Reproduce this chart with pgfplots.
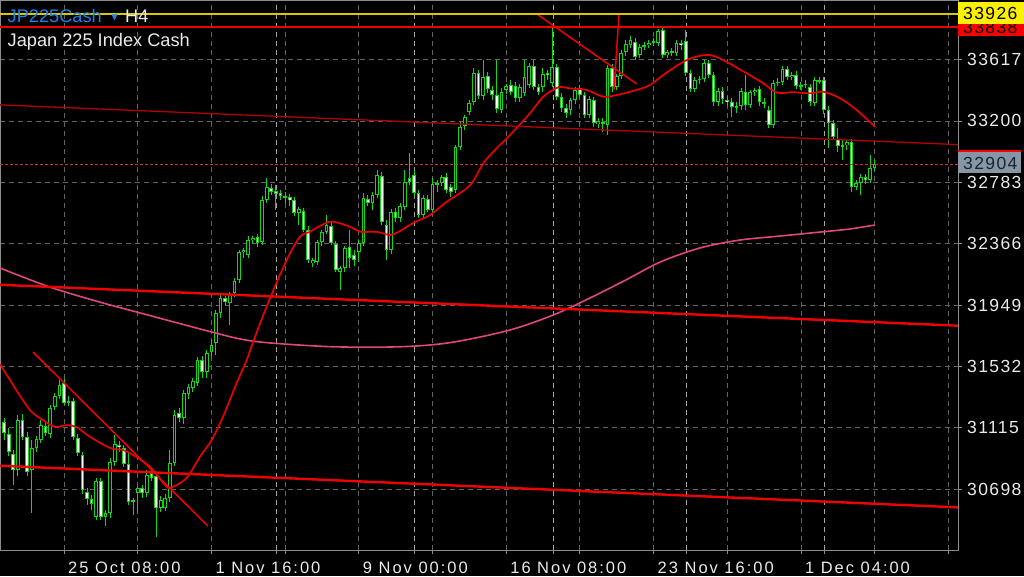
\documentclass[border=0pt]{standalone}
\usepackage{fontspec}
\setmainfont{Liberation Sans}
\newfontfamily\hdrfont{Liberation Sans}
\newfontfamily\axfont[LetterSpace=8]{Liberation Sans}
\newfontfamily\xfont[LetterSpace=12]{Liberation Sans}
\usepackage{pgfplots}
\usepackage{pgfplotstable}
\pgfplotsset{compat=1.18}

\definecolor{candle}{RGB}{20,215,20}
\definecolor{bearfill}{RGB}{245,255,245}
\definecolor{gridc}{RGB}{100,100,100}
\definecolor{sepc}{RGB}{165,165,165}
\definecolor{framec}{RGB}{140,140,140}
\definecolor{maRed}{RGB}{235,0,0}
\definecolor{maPink}{RGB}{222,70,130}
\definecolor{trendRed}{RGB}{240,0,0}
\definecolor{darkRed}{RGB}{180,0,0}
\definecolor{lineYellow}{RGB}{215,200,0}
\definecolor{boxYellow}{RGB}{250,240,0}
\definecolor{boxRed}{RGB}{250,0,0}
\definecolor{boxGray}{RGB}{135,150,165}
\definecolor{jpblue}{RGB}{30,130,235}
\definecolor{txt}{RGB}{235,235,235}
\definecolor{bidline}{RGB}{205,50,50}

% H4 bars: index, open, high, low, close
\pgfplotstableread{
i o h l c
3 31154 31182 31033 31080
4 31073 31114 30924 30951
5 30938 30965 30727 30829
6 30829 31202 30788 31168
7 31168 31209 31033 31052
8 31052 31086 30788 30815
9 30829 31033 30537 30979
10 30979 31059 30951 31040
11 31033 31168 31013 31134
12 31127 31154 31059 31080
13 31073 31270 31047 31250
14 31256 31352 31236 31331
15 31331 31440 31311 31406
16 31420 31447 31270 31284
17 31297 31331 31263 31284
18 31297 31318 31033 31052
19 31047 31073 30924 30945
20 30931 30951 30666 30693
21 30679 30707 30591 30632
22 30632 30659 30557 30598
23 30509 30775 30489 30754
24 30754 30775 30489 30509
25 30509 30557 30448 30537
26 30537 30911 30503 30883
27 30883 31066 30856 31006
28 30999 31026 30951 30985
29 30979 30999 30849 30870
30 30870 30945 30591 30611
31 30618 30639 30523 30625
32 30673 30720 30537 30707
33 30707 30727 30639 30673
34 30673 30829 30645 30795
35 30809 30843 30754 30775
36 30788 30815 30373 30571
37 30571 30652 30543 30625
38 30571 30666 30550 30639
39 30639 30965 30611 30877
40 30877 31236 30856 31202
41 31216 31250 31154 31182
42 31182 31372 31141 31352
43 31345 31413 31311 31392
44 31386 31454 31358 31433
45 31420 31596 31399 31576
46 31576 31603 31454 31494
47 31494 31644 31454 31624
48 31630 31712 31603 31678
49 31692 31915 31610 31896
50 31896 32017 31862 31997
51 31997 32010 31949 31969
52 31963 32037 31814 32017
53 32031 32133 32003 32112
54 32119 32323 32099 32309
55 32309 32337 32269 32323
56 32289 32418 32269 32391
57 32391 32418 32364 32405
58 32411 32432 32343 32371
59 32377 32690 32357 32663
60 32663 32812 32643 32750
61 32745 32771 32697 32717
62 32724 32764 32595 32704
63 32711 32731 32663 32690
64 32690 32717 32643 32683
65 32683 32704 32622 32663
66 32663 32683 32554 32575
67 32575 32615 32493 32602
68 32588 32609 32445 32459
69 32459 32486 32235 32255
70 32235 32269 32207 32255
71 32241 32391 32221 32377
72 32377 32459 32350 32445
73 32445 32561 32432 32493
74 32486 32513 32357 32371
75 32364 32384 32173 32187
76 32173 32214 32051 32201
77 32201 32350 32173 32337
78 32343 32459 32201 32269
79 32289 32323 32214 32255
80 32309 32391 32241 32371
81 32371 32711 32350 32677
82 32670 32697 32622 32643
83 32643 32717 32595 32697
84 32697 32866 32677 32832
85 32825 32852 32493 32513
86 32493 32527 32255 32323
87 32323 32602 32296 32581
88 32581 32609 32513 32541
89 32541 32643 32513 32622
90 32615 32866 32595 32784
91 32812 32982 32764 32784
92 32832 32859 32690 32711
93 32711 32731 32541 32561
94 32561 32697 32541 32677
95 32670 32697 32581 32595
96 32595 32812 32568 32771
97 32778 32798 32717 32771
98 32778 32832 32757 32818
99 32818 32846 32711 32731
100 32750 32771 32683 32717
101 32731 33036 32711 33022
102 33022 33192 33002 33158
103 33165 33240 33138 33226
104 33260 33342 33240 33322
105 33328 33560 33308 33526
106 33526 33546 33349 33369
107 33369 33613 33342 33498
108 33505 33532 33390 33417
109 33410 33437 33342 33376
110 33376 33613 33254 33281
111 33274 33424 33254 33396
112 33410 33451 33383 33437
113 33444 33478 33376 33396
114 33437 33464 33328 33356
115 33356 33451 33328 33430
116 33390 33613 33369 33498
117 33444 33594 33424 33573
118 33573 33613 33410 33430
119 33430 33451 33376 33396
120 33430 33560 33396 33519
121 33526 33546 33478 33512
122 33458 33837 33430 33566
123 33566 33587 33342 33362
124 33362 33390 33260 33288
125 33288 33315 33220 33254
126 33274 33356 33240 33342
127 33342 33430 33315 33410
128 33424 33444 33356 33376
129 33376 33396 33220 33240
130 33240 33369 33220 33349
131 33342 33362 33158 33186
132 33179 33220 33152 33199
133 33192 33220 33124 33186
134 33172 33580 33104 33560
135 33560 33587 33396 33430
136 33430 33519 33410 33505
137 33505 33681 33485 33661
138 33667 33749 33640 33722
139 33715 33776 33695 33749
140 33735 33763 33613 33633
141 33647 33722 33627 33701
142 33708 33735 33681 33715
143 33715 33749 33695 33729
144 33735 33763 33708 33738
145 33729 33824 33708 33810
146 33817 33831 33627 33647
147 33647 33681 33627 33667
148 33667 33695 33640 33670
149 33661 33749 33640 33729
150 33729 33749 33681 33715
151 33742 33817 33505 33526
152 33526 33546 33396 33417
153 33417 33498 33396 33478
154 33478 33505 33451 33485
155 33485 33613 33464 33594
156 33594 33613 33492 33512
157 33512 33532 33301 33328
158 33328 33424 33301 33403
159 33403 33430 33315 33349
160 33342 33369 33301 33328
161 33328 33356 33226 33294
162 33301 33328 33254 33294
163 33301 33424 33274 33403
164 33396 33512 33274 33308
165 33308 33410 33288 33396
166 33396 33424 33369 33410
167 33417 33437 33301 33328
168 33328 33356 33288 33322
169 33274 33301 33152 33172
170 33172 33478 33152 33458
171 33458 33491 33437 33464
172 33464 33573 33444 33553
173 33553 33573 33478 33498
174 33498 33532 33478 33512
175 33512 33539 33417 33437
176 33437 33464 33410 33444
177 33444 33478 33424 33451
178 33430 33451 33301 33328
179 33322 33498 33301 33478
180 33478 33498 33451 33471
181 33478 33498 33247 33274
182 33274 33301 33016 33186
183 33186 33206 33070 33091
184 33077 33152 32989 33029
185 33029 33070 32934 33036
186 33036 33070 33002 33057
187 33057 33077 32717 32751
188 32751 32798 32731 32778
189 32778 32839 32697 32818
190 32818 32839 32771 32798
191 32798 32968 32778 32880
192 32880 32934 32859 32904
}\candles

\begin{document}
\begin{tikzpicture}
\useasboundingbox (0pt,0pt) rectangle (1024pt,576pt);
\fill[black] (0pt,0pt) rectangle (1024pt,576pt);
\begin{axis}[
  at={(0pt,26pt)}, anchor=south west,
  scale only axis, width=958pt, height=550pt,
  xmin=2.104, xmax=210.11, ymin=30285.6, ymax=34021.2,
  axis line style={draw=framec, line width=0.8pt},
  xtick={16,32,...,208},
  xticklabels={25 Oct 08:00,,1 Nov 16:00,,9 Nov 00:00,,16 Nov 08:00,,23 Nov 16:00,,1 Dec 04:00,,},
  extra x ticks={62.1,92.1,122.2,151.2,181.2},
  extra x tick labels={},
  extra x tick style={grid=major, major grid style={sepc, dash pattern=on 5pt off 4pt, line width=0.9pt}},
  ytick={30698,31115,31532,31949,32366,32783,33200,33617},
  yticklabels={30698,31115,31532,31949,32366,32783,33200,33617},
  grid=major,
  major grid style={gridc, dash pattern=on 5pt off 4pt, line width=0.8pt},
  xtick pos=bottom, ytick pos=right, yticklabel pos=right,
  tick align=outside, major tick length=4pt,
  tick style={framec, line width=0.8pt},
  xticklabel style={font=\xfont\fontsize{16.5}{19}\selectfont, text=txt,
    anchor=base west, inner sep=0pt, xshift=4pt, yshift=-19pt},
  yticklabel style={font=\axfont\fontsize{17.5}{20}\selectfont, text=txt,
    anchor=west, inner sep=0pt, xshift=5pt},
]
% wicks
\addplot [draw=none, mark=none, forget plot,
  error bars/.cd, y dir=both, y explicit, error mark=none,
  error bar style={draw=candle, line width=1pt}]
  table [x=i, y expr={(\thisrow{h}+\thisrow{l})/2},
         y error expr={(\thisrow{h}-\thisrow{l})/2}] {\candles};
% body outlines
\addplot [draw=none, mark=none, forget plot,
  error bars/.cd, y dir=both, y explicit, error mark=none,
  error bar style={draw=candle, line width=3.7pt}]
  table [x=i, y expr={(\thisrow{o}+\thisrow{c})/2},
         y error expr={max(abs(\thisrow{c}-\thisrow{o}),6.8)/2}] {\candles};
% bull bodies (black)
\addplot [draw=none, mark=none, forget plot,
  error bars/.cd, y dir=both, y explicit, error mark=none,
  error bar style={draw=black, line width=1.7pt}]
  table [x=i, y expr={(\thisrow{o}+\thisrow{c})/2},
         y error expr={(\thisrow{c}>\thisrow{o}) ? max(\thisrow{c}-\thisrow{o}-13.6,0)/2 : 0}] {\candles};
% bear bodies (white)
\addplot [draw=none, mark=none, forget plot,
  error bars/.cd, y dir=both, y explicit, error mark=none,
  error bar style={draw=bearfill, line width=1.7pt}]
  table [x=i, y expr={(\thisrow{o}+\thisrow{c})/2},
         y error expr={(\thisrow{c}<\thisrow{o}) ? max(\thisrow{o}-\thisrow{c}-13.6,0)/2 : 0}] {\candles};

% slow MA
\addplot [maPink, line width=1.6pt, smooth, mark=none] coordinates {
(2.1,32201) (12.96,32071) (23.82,31969) (32.50,31896) (45.53,31787) (54.21,31719)
(60.73,31692) (74.41,31666) (88.95,31666) (99.81,31694) (112.84,31780) (123.69,31901)
(136.72,32099) (145.41,32241) (154.09,32337) (162.78,32391) (171.46,32418)
(180.15,32445) (186.66,32466) (192.08,32493)};
% fast MA
\addplot [maRed, line width=1.7pt, smooth, mark=none] coordinates {
(2.1,31549) (5.36,31386) (8.62,31236) (11.44,31168) (14.05,31122) (16.59,31134)
(18.76,31120) (21.65,31054) (25.99,30979) (28.81,30965) (30.98,30931) (34.67,30851)
(38.30,30715) (39.67,30715) (42.64,30775) (45.53,30919) (48.07,31033) (50.52,31190)
(53.49,31420) (55.67,31576) (57.47,31734) (60.73,31995) (64.35,32255) (67.24,32413)
(69.41,32447) (73.75,32515) (78.10,32481) (80.27,32447) (83.89,32447) (86.78,32425)
(88.95,32452) (91.84,32507) (95.47,32561) (99.09,32651) (101.98,32709) (104.52,32776)
(107.04,32912) (109.58,33002) (112.84,33104) (117.18,33252) (120.07,33364)
(123.33,33428) (125.86,33421) (129.49,33410) (133.10,33364) (136.01,33376)
(140.35,33410) (143.23,33444) (146.12,33512) (150.46,33601) (153.37,33637)
(156.26,33647) (159.15,33613) (164.23,33523) (167.84,33456) (170.74,33392)
(174.35,33395) (177.97,33387) (180.86,33398) (184.49,33354) (188.11,33274)
(192.08,33160)};

% trend lines
\addplot [darkRed, line width=1.3pt] coordinates {(2.104,33309) (210.11,33039)};
\addplot [trendRed, line width=2.4pt] coordinates {(2.104,32087) (210.11,31809)};
\addplot [trendRed, line width=2.4pt] coordinates {(2.104,30858) (210.11,30575)};
\addplot [trendRed, line width=1.5pt] coordinates {(9.27,31630) (47.27,30448)};
\addplot [trendRed, line width=1.5pt] coordinates {(118.48,33930) (140.35,33451)};
\addplot [trendRed, line width=1.5pt] coordinates {(136.50,33926) (135.42,33410)};
% horizontal levels
\addplot [lineYellow, line width=1.5pt] coordinates {(2.104,33926) (210.11,33926)};
\addplot [maRed, line width=1.5pt] coordinates {(2.104,33838) (210.11,33838)};
\addplot [bidline, line width=1.3pt, dash pattern=on 3pt off 2pt] coordinates {(2.104,32904) (210.11,32904)};
\end{axis}

% price labels on the right scale
\fill[boxRed] (958pt,539.5pt) rectangle (1024pt,559pt);
\node[anchor=west, inner sep=0pt, text=black, font=\axfont\fontsize{17.5}{20}\selectfont] at (963pt,549pt) {33838};
\fill[boxYellow] (958pt,552pt) rectangle (1024pt,573.5pt);
\node[anchor=west, inner sep=0pt, text=black, font=\axfont\fontsize{17.5}{20}\selectfont] at (963pt,562.5pt) {33926};
\fill[boxGray] (958pt,402.5pt) rectangle (1021pt,424pt);
\draw[boxRed, line width=1.5pt] (958pt,425pt) -- (1021pt,425pt);
\node[anchor=west, inner sep=0pt, text={rgb,255:red,25;green,35;blue,50}, font=\axfont\fontsize{17.5}{20}\selectfont] at (963pt,413pt) {32904};

% symbol header
\node[anchor=base west, inner sep=0pt, text=jpblue, font=\hdrfont\fontsize{18.2}{22}\selectfont] at (7.5pt,553.3pt) {JP225Cash};
\fill[jpblue] (111.5pt,561.5pt) -- (117.5pt,561.5pt) -- (114.5pt,555.5pt) -- cycle;
\node[anchor=base west, inner sep=0pt, text=txt, font=\hdrfont\fontsize{18.2}{22}\selectfont] at (125pt,553.3pt) {H4};
\node[anchor=base west, inner sep=0pt, text=txt, font=\hdrfont\fontsize{18.2}{22}\selectfont] at (7.5pt,529.3pt) {Japan 225 Index Cash};
\end{tikzpicture}
\end{document}
